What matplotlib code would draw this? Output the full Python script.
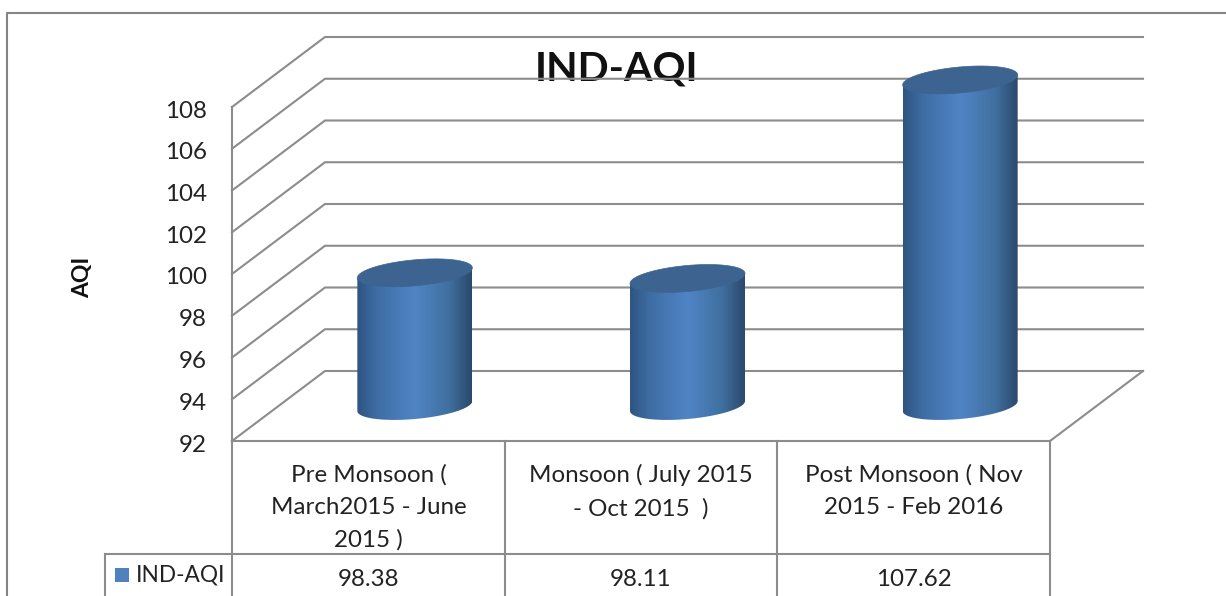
import numpy as np
import matplotlib
matplotlib.use('Agg')
import matplotlib.pyplot as plt
from matplotlib.colors import LinearSegmentedColormap
from matplotlib.patches import Polygon, Rectangle
from matplotlib.transforms import ScaledTranslation

plt.rcParams['font.family'] = ['Lato', 'DejaVu Sans']

categories = [
    'Pre Monsoon (\nMarch2015 - June\n2015 )',
    'Monsoon ( July 2015\n- Oct 2015  )',
    'Post Monsoon ( Nov\n2015 - Feb 2016',
]
series_name = 'IND-AQI'
values = [98.38, 98.11, 107.62]
value_labels = ['98.38', '98.11', '107.62']
y_ticks = [92, 94, 96, 98, 100, 102, 104, 106, 108]

GREY = '#8c8c8c'
TEXT = '#222222'
BLUE = '#4f81bd'

W, H = 1226, 596
fig = plt.figure(figsize=(W / 100, H / 100), dpi=100)

# overlay in pixels for the frame and the table under the plot
deco = fig.add_axes([0, 0, 1, 1])
deco.set_xlim(0, W)
deco.set_ylim(H, 0)
deco.axis('off')

deco.plot([7, 7, W], [H, 13, 13], color='#858585', lw=1.5)

cell_x = [232, 505, 777, 1050]
for x in cell_x:
    deco.plot([x, x], [441, H], color=GREY, lw=1.5)
deco.plot([105, 1050], [554, 554], color=GREY, lw=1.5)
deco.plot([105, 105], [554, H], color=GREY, lw=1.5)

for i in range(3):
    mid = (cell_x[i] + cell_x[i + 1]) / 2
    deco.text(mid, 464, categories[i], ha='center', va='top', fontsize=17.4,
              color=TEXT, linespacing=1.66)
    deco.text(mid, 579, value_labels[i], ha='center', va='center', fontsize=17.4,
              color=TEXT)

deco.add_patch(Rectangle((115, 568), 14, 14, color=BLUE, lw=0))
deco.text(136, 575, series_name, ha='left', va='center', fontsize=16.3, color=TEXT)

deco.text(617, 69, 'IND-AQI', ha='center', va='center', fontsize=29.5,
          fontweight='bold', color='#111111')
deco.text(83, 277, 'AQI', ha='center', va='center', rotation=90, fontsize=16.5,
          fontweight='bold', color='#111111')

# chart axes sit on the front plane, depth is an offset from it
ax = fig.add_axes([232 / W, (H - 441) / H, 818 / W, 334 / H])
ax.patch.set_alpha(0)
for s in ax.spines.values():
    s.set_visible(False)

xmax = len(categories)
px_x = 818 / xmax
px_y = 334 / (y_ticks[-1] - y_ticks[0])
dx = 93 / px_x
dy = 70 / px_y

ax.plot([0, 0], [y_ticks[0], y_ticks[-1]], color=GREY, lw=1.5, clip_on=False)
for v in y_ticks:
    ax.plot([0, dx, xmax + dx], [v, v + dy, v + dy], color=GREY, lw=1.5,
            clip_on=False, solid_joinstyle='miter')
ax.plot([0, xmax, xmax + dx], [y_ticks[0], y_ticks[0], y_ticks[0] + dy],
        color=GREY, lw=1.5, clip_on=False)

shade = LinearSegmentedColormap.from_list(
    'cyl', [(0, '#2e5582'), (0.18, '#3f6ea5'), (0.5, '#5084c6'), (0.8, '#40709f'),
            (1, '#2b496c')])
ramp = np.linspace(0, 1, 256).reshape(1, -1)

half_w = 57.5 / px_x
half_h = 13 / px_y
tilt = 5 / px_y
t = np.linspace(0, 2 * np.pi, 181)

for i, v in enumerate(values):
    cx = i + 0.5 + dx / 2
    base = y_ticks[0] + dy / 2
    top = v + dy / 2

    lower = np.linspace(np.pi, 2 * np.pi, 91)
    body = np.concatenate([
        np.column_stack([cx + half_w * np.cos(lower),
                         base + half_h * np.sin(lower) + tilt * np.cos(lower)]),
        np.column_stack([[cx + half_w, cx - half_w], [top + tilt, top - tilt]]),
    ])
    clip = Polygon(body, transform=ax.transData, fc='none', ec='none', clip_on=False)
    ax.add_patch(clip)
    im = ax.imshow(ramp, cmap=shade, aspect='auto', zorder=4,
                   extent=[cx - half_w, cx + half_w, base - 2 * half_h, top + half_h])
    im.set_clip_box(fig.bbox)
    im.set_clip_path(clip)

    cap = np.column_stack([cx + half_w * np.cos(t),
                           top + half_h * np.sin(t) + tilt * np.cos(t)])
    ax.add_patch(Polygon(cap, fc='#3d6491', ec='#3d6491', lw=0.5, zorder=5,
                         clip_on=False))

ax.set_xlim(0, xmax)
ax.set_ylim(y_ticks[0], y_ticks[-1])
ax.set_xticks([])
ax.set_yticks(y_ticks)
ax.set_yticklabels([str(v) for v in y_ticks], fontsize=17.4, color=TEXT)
ax.tick_params(axis='y', length=0, pad=18)
nudge = ScaledTranslation(0, -2 / 100, fig.dpi_scale_trans)
for lab in ax.get_yticklabels():
    lab.set_transform(lab.get_transform() + nudge)

plt.savefig('out.png', dpi=100)
